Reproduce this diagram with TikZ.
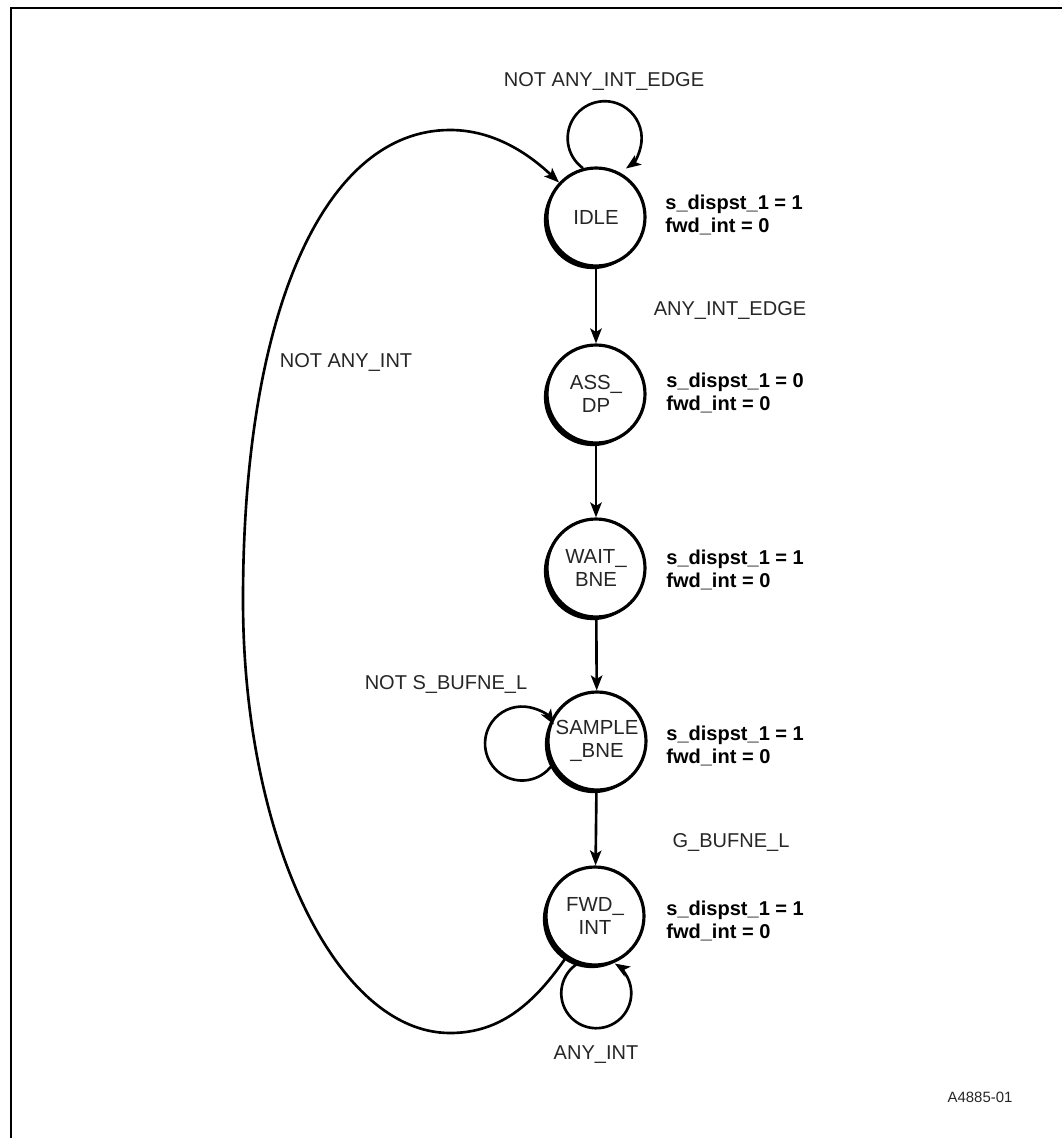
\documentclass[tikz,border=0pt]{standalone}
\usepackage{fontspec}
\setmainfont{Liberation Sans}
\usetikzlibrary{arrows.meta,shadows}
\definecolor{txt}{HTML}{262626}
\begin{document}
\begin{tikzpicture}[x=0.02cm,y=0.02cm,
  state/.style={circle,draw,line width=1.8pt,fill=white,minimum size=1.96cm,inner sep=0pt,
    align=center,font=\fontsize{11.6}{12.8}\selectfont,text=txt,
    general shadow={fill=black,shadow xshift=-1.8pt,shadow yshift=-1.8pt}},
  outlbl/.style={anchor=west,align=left,inner sep=0pt,font=\fontsize{11.4}{13}\selectfont\bfseries},
  cond/.style={inner sep=0pt,text=txt,font=\fontsize{11.4}{13}\selectfont},
  trans/.style={line width=1.5pt,-{Stealth[length=8.5pt,width=6.5pt,inset=2pt]}}]
\useasboundingbox (0,0) rectangle (1062,-1138);
% frame
\draw[line width=1.3pt] (11,-1138) -- (11,-8) -- (1062,-8);
% states
\node[state] (idle) at (596,-217) {IDLE};
\node[state] (ass) at (596,-394) {ASS\_\\DP};
\node[state] (wait) at (596,-568) {WAIT\_\\BNE};
\node[state] (sample) at (597,-741) {SAMPLE\\\_BNE};
\node[state] (fwd) at (595,-916) {FWD\_\\INT};
% outputs
\node[outlbl] (oidle) at (665,-215) {s\_dispst\_1 = 1\\fwd\_int = 0};
\node[outlbl] (oass) at (666,-393) {s\_dispst\_1 = 0\\fwd\_int = 0};
\node[outlbl] (owait) at (666,-570) {s\_dispst\_1 = 1\\fwd\_int = 0};
\node[outlbl] (osample) at (666,-746) {s\_dispst\_1 = 1\\fwd\_int = 0};
\node[outlbl] (ofwd) at (666,-921) {s\_dispst\_1 = 1\\fwd\_int = 0};
% conditions
\node[cond] (c1) at (604,-82) {NOT ANY\_INT\_EDGE};
\node[cond] (c2) at (730,-310) {ANY\_INT\_EDGE};
\node[cond] (c3) at (346,-362) {NOT ANY\_INT};
\node[cond] (c4) at (446,-684) {NOT S\_BUFNE\_L};
\node[cond] (c5) at (731,-842) {G\_BUFNE\_L};
\node[cond] (c6) at (596,-1055) {ANY\_INT};
\node[inner sep=0pt,text=txt,font=\fontsize{8.5}{10}\selectfont] (fig) at (980,-1097) {A4885-01};
% transitions
\draw[trans] (idle) -- (ass);
\draw[trans] (ass) -- (wait);
\draw[trans] (wait) -- (sample);
\draw[trans] (sample) -- (fwd);
% self loops
\draw[trans] (idle.105) arc[start angle=234,end angle=-55,radius=37];
\draw[trans] (sample.208) arc[start angle=-35,end angle=-329,radius=37];
\draw[trans] (fwd.250) arc[start angle=122,end angle=418,radius=35];
% return
\draw[trans] (fwd.235) .. controls (530,-1010) and (495,-1033) .. (450,-1033)
  .. controls (337,-1033) and (243,-840) .. (243,-600)
  .. controls (243,-310) and (325,-130) .. (450,-130)
  .. controls (495,-130) and (530,-155) .. (idle.137);
\end{tikzpicture}
\end{document}
